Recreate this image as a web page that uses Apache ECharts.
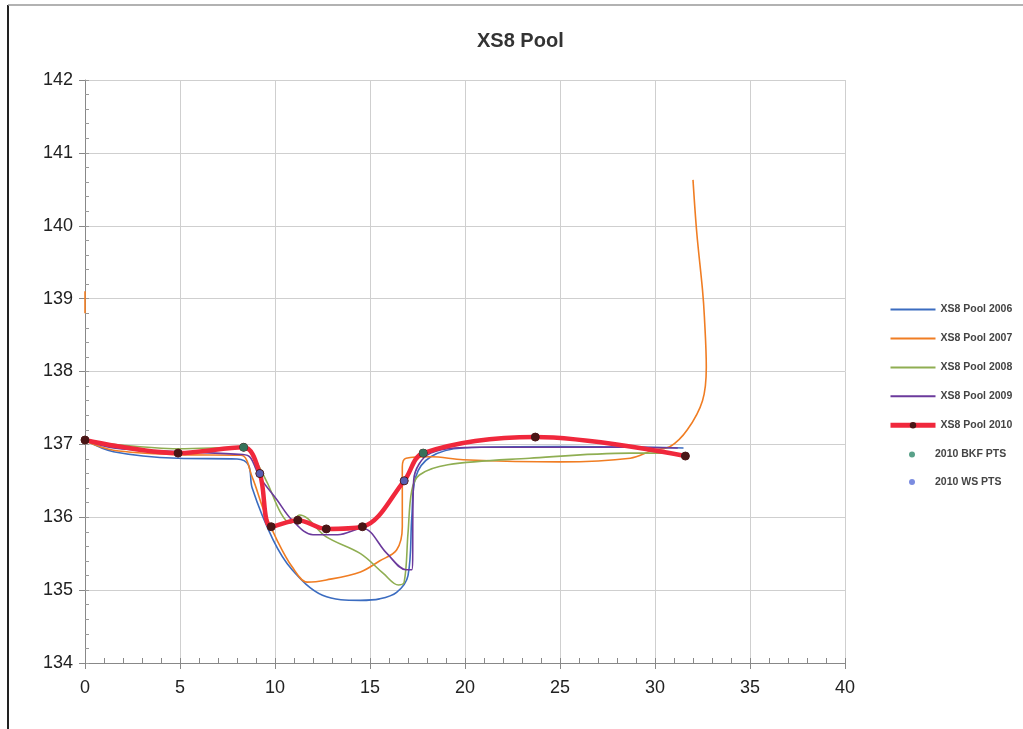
<!DOCTYPE html>
<html><head><meta charset="utf-8">
<script src="https://cdn.jsdelivr.net/npm/echarts@6/dist/echarts.min.js"></script>
<style>html,body{margin:0;padding:0;background:#fff}#c{width:1023px;height:729px}</style>
</head><body><div id="c"></div>
<script>
const xTicks = [0,5,10,15,20,25,30,35,40];
const yTicks = [134,135,136,137,138,139,140,141,142];
const pool2006 = [[0,137.06],[1.5,136.9],[4.9,136.81],[8.0,136.8],[8.6,136.72],[8.8,136.4],[9.9,135.69],[10.9,135.28],[12.5,134.93],[14.5,134.86],[15.5,134.88],[16.4,134.97],[17.0,135.2],[17.2,136.0],[17.4,136.55],[18.2,136.83],[19.9,136.95],[25,136.97],[31.5,136.95]];
const pool2007a = [[0,139.1],[0,138.8]];
const pool2007 = [[0,137.05],[1.5,136.92],[4.9,136.86],[8.2,136.85],[8.8,136.55],[9.4,136.1],[10.1,135.69],[10.9,135.32],[11.7,135.11],[12.7,135.14],[14.5,135.25],[15.5,135.4],[16.4,135.55],[16.7,135.87],[16.7,136.69],[16.9,136.81],[18.2,136.83],[19.9,136.79],[25,136.76],[28.7,136.81],[29.9,136.92],[30.8,136.97],[31.7,137.2],[32.5,137.6],[32.7,138.06],[32.6,138.75],[32.5,139.12],[32.2,139.9],[32.0,140.63]];
const pool2008 = [[0,137.06],[1.5,137.0],[4.9,136.94],[8.35,136.96],[8.9,136.81],[9.6,136.47],[10.3,136.06],[10.8,135.92],[11.3,136.03],[12.7,135.73],[14.5,135.5],[15.7,135.23],[16.5,135.07],[16.8,135.11],[17.0,135.78],[17.2,136.37],[17.6,136.58],[19.1,136.72],[23.4,136.81],[28.7,136.88],[30.5,136.88]];
const pool2009 = [[0,137.06],[1.5,136.95],[4.9,136.9],[8.3,136.86],[8.7,136.82],[9.2,136.55],[10.1,136.24],[10.9,135.96],[12.0,135.76],[13.3,135.76],[14.6,135.85],[15.9,135.5],[16.9,135.28],[17.2,135.28],[17.3,136.51],[18.2,136.88],[20.8,136.96],[28.7,136.96],[31.2,136.95]];
const pool2010 = [[0,137.06],[4.9,136.88],[8.35,136.96],[9.2,136.6],[9.8,135.87],[11.2,135.96],[12.7,135.84],[14.6,135.87],[16.8,136.5],[17.8,136.88],[23.7,137.1],[31.6,136.84]];
const bkfPts = [[8.35,136.96],[17.8,136.88]];
const wsPts = [[9.2,136.6],[16.8,136.5]];

const chart = echarts.init(document.getElementById('c'));
const thin = (name, data, color) => ({name, type:'line', data, smooth:0.35, symbol:'none', lineStyle:{width:1.6,color}, itemStyle:{color}, z:3});
const legText = {fontFamily:'Liberation Sans', fontSize:10.5, color:'#444', fontWeight:'bold'};
const hideSym = {color:'rgba(0,0,0,0)', borderWidth:0, opacity:0};
chart.setOption({
  backgroundColor:'#fff',
  animation:false,
  title:{text:'XS8 Pool', left:472, top:26, textStyle:{fontFamily:'Liberation Sans', fontSize:20, fontWeight:'bold', color:'#333'}},
  graphic:[
    {type:'line', shape:{x1:8,y1:5,x2:8,y2:729}, style:{stroke:'#222',lineWidth:2}},
    {type:'line', shape:{x1:8,y1:5,x2:1023,y2:5}, style:{stroke:'#999',lineWidth:1.5}}
  ],
  legend:[{
    orient:'vertical', left:888, top:304, padding:0, itemWidth:45, itemHeight:8, itemGap:17.95,
    textStyle:legText,
    data:[
      {name:'XS8 Pool 2006', itemStyle:hideSym},
      {name:'XS8 Pool 2007', itemStyle:hideSym},
      {name:'XS8 Pool 2008', itemStyle:hideSym},
      {name:'XS8 Pool 2009', itemStyle:hideSym},
      {name:'XS8 Pool 2010', lineStyle:{width:5}}
    ]
  },{
    orient:'vertical', left:909, top:449, padding:0, itemWidth:6, itemHeight:6, itemGap:16.6,
    textStyle:Object.assign({}, legText, {padding:[0,0,0,15]}),
    data:[{name:'2010 BKF PTS',icon:'circle'},{name:'2010 WS PTS',icon:'circle'}]
  }],
  grid:{left:85, right:178, top:80, bottom:66},
  xAxis:[{
    type:'value', min:0, max:40, interval:5,
    axisLine:{show:true,lineStyle:{color:'#888'}},
    axisTick:{show:true,length:6,lineStyle:{color:'#888'}},
    axisLabel:{fontFamily:'Liberation Sans', fontSize:18, color:'#222', margin:16},
    splitLine:{show:true,lineStyle:{color:'#cfcfcf'}}
  },{
    type:'value', min:0, max:40, interval:1, position:'bottom',
    axisLine:{show:false}, axisLabel:{show:false}, splitLine:{show:false},
    axisTick:{show:true,inside:true,length:5,lineStyle:{color:'#888'}}
  }],
  yAxis:[{
    type:'value', min:134, max:142, interval:1,
    axisLine:{show:true,lineStyle:{color:'#888'}},
    axisTick:{show:true,length:6,lineStyle:{color:'#888'}},
    axisLabel:{fontFamily:'Liberation Sans', fontSize:18, color:'#222', margin:12},
    splitLine:{show:true,lineStyle:{color:'#cfcfcf'}}
  },{
    type:'value', min:134, max:142, interval:0.2, position:'left',
    axisLine:{show:false}, axisLabel:{show:false}, splitLine:{show:false},
    axisTick:{show:true,inside:true,length:4,lineStyle:{color:'#999'}}
  }],
  series:[
    thin('XS8 Pool 2006', pool2006, '#3b6cc0'),
    thin('XS8 Pool 2007', pool2007, '#f07d23'),
    {name:'XS8 Pool 2007', type:'line', data:pool2007a, symbol:'none', lineStyle:{width:1.6,color:'#f07d23'}, itemStyle:{color:'#f07d23'}, z:3},
    thin('XS8 Pool 2008', pool2008, '#8fae52'),
    thin('XS8 Pool 2009', pool2009, '#6b3a9c'),
    {name:'XS8 Pool 2010', type:'line', data:pool2010, smooth:0.35, symbol:'circle', symbolSize:8, showSymbol:true,
     lineStyle:{width:4.5,color:'#f0283c'}, itemStyle:{color:'#4a1616', borderColor:'#4a1616'}, z:4},
    {name:'2010 BKF PTS', type:'scatter', data:bkfPts, symbol:'circle', symbolSize:8, itemStyle:{color:'#2f8a6c'}, z:5},
    {name:'2010 WS PTS', type:'scatter', data:wsPts, symbol:'circle', symbolSize:7, itemStyle:{color:'#5a6fd8'}, z:5}
  ]
});
</script></body></html>
